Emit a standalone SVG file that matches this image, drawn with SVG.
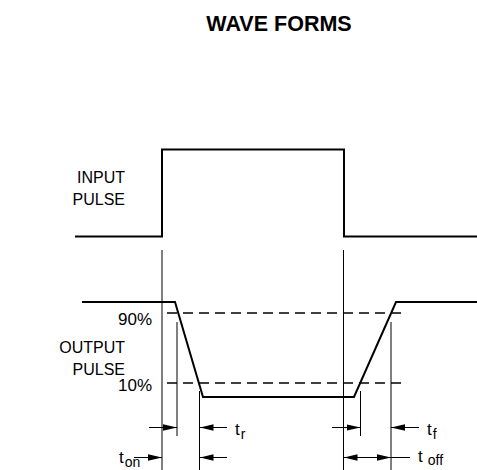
<svg xmlns="http://www.w3.org/2000/svg" width="477" height="470" viewBox="0 0 477 470">
<style>
.wave{fill:none;stroke:#000;stroke-width:2}
.thin{fill:none;stroke:#000;stroke-width:1}
.dash{fill:none;stroke:#000;stroke-width:1.5;stroke-dasharray:10 6}
.arr{fill:none;stroke:#000;stroke-width:1;marker-end:url(#ah)}
text{font-family:"Liberation Sans",Arial,Helvetica,sans-serif;fill:#000;font-size:17px}
.lbl{text-anchor:end;font-size:16px}
.pct{text-anchor:end}
.title{font-weight:bold;font-size:21.5px;text-anchor:middle}
.sub{font-size:14px}
</style>
<defs>
<marker id="ah" markerWidth="14" markerHeight="8" refX="14" refY="4" orient="auto" markerUnits="userSpaceOnUse">
<path d="M0,0.8 L14,4 L0,7.2 Z" fill="#000"/>
</marker>
</defs>
<g id="title"><text class="title" x="279" y="31">WAVE FORMS</text></g>
<g id="input-label"><text class="lbl" x="125" y="183">INPUT</text><text class="lbl" x="125" y="205">PULSE</text></g>
<g id="output-label"><text class="lbl" x="125" y="353">OUTPUT</text><text class="lbl" x="125" y="375">PULSE</text></g>
<g id="input-wave"><path class="wave" d="M75,236.5 H162 V149.5 H344 V236.5 H477"/></g>
<g id="output-wave"><path class="wave" d="M82,302 H175 L203,397 H354 L396,302 H477"/></g>
<g id="levels">
<line class="dash" x1="167" y1="313" x2="405" y2="313"/>
<line class="dash" x1="167" y1="383" x2="405" y2="383"/>
<text class="pct" x="152" y="325">90%</text>
<text class="pct" x="152" y="391">10%</text>
</g>
<g id="connectors">
<line class="thin" x1="162" y1="250" x2="162" y2="470"/>
<line class="thin" x1="177" y1="322" x2="177" y2="436"/>
<line class="thin" x1="199.5" y1="391" x2="199.5" y2="470"/>
<line class="thin" x1="343.5" y1="250" x2="343.5" y2="470"/>
<line class="thin" x1="360.5" y1="391" x2="360.5" y2="436"/>
<line class="thin" x1="391" y1="322" x2="391" y2="470"/>
<line class="arr" x1="149" y1="427.5" x2="177" y2="427.5"/>
<line class="arr" x1="227" y1="427.5" x2="199.5" y2="427.5"/>
<line class="arr" x1="134" y1="457.5" x2="162" y2="457.5"/>
<line class="arr" x1="227" y1="457.5" x2="199.5" y2="457.5"/>
<line class="arr" x1="332" y1="427.5" x2="360.5" y2="427.5"/>
<line class="arr" x1="419" y1="427.5" x2="391" y2="427.5"/>
<line class="arr" x1="367" y1="457.5" x2="343.5" y2="457.5"/>
<line class="arr" x1="367" y1="457.5" x2="391" y2="457.5"/>
<line class="thin" x1="391" y1="457.5" x2="410" y2="457.5"/>
</g>
<g id="time-labels">
<text x="235" y="435">t<tspan class="sub" dx="1" dy="4">r</tspan></text>
<text x="119" y="463">t<tspan class="sub" dx="1" dy="4">on</tspan></text>
<text x="427" y="435">t<tspan class="sub" dx="1" dy="4">f</tspan></text>
<text x="418" y="462">t<tspan class="sub" dx="5" dy="3">off</tspan></text>
</g>
</svg>
